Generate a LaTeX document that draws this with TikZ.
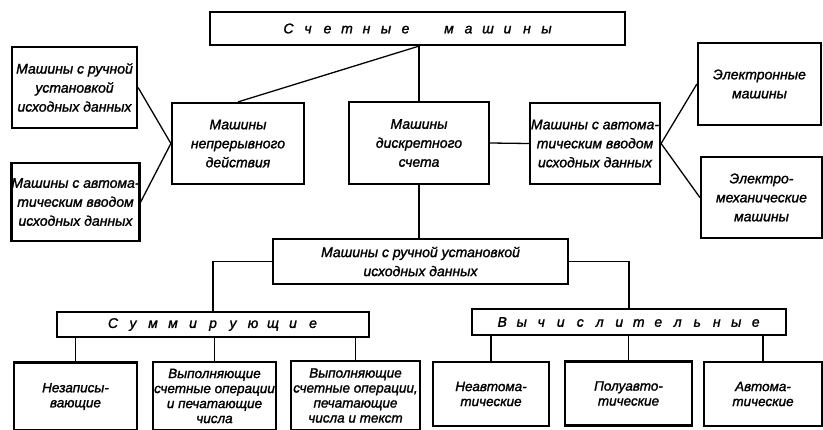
\documentclass[tikz,border=0pt]{standalone}
\usepackage{fontspec}
\setmainfont{Liberation Sans}
\makeatletter
\newcommand\spreadtxt[2]{\@tfor\ch:=#2\do{\makebox[#1]{\ch}}}
\makeatother
\tikzset{
  bx/.style={draw, line width=2.2pt, inner sep=0pt, align=center,
    font=\fontsize{14}{19}\selectfont\itshape\addfontfeature{FakeBold=1.5}},
  bxs/.style={bx, font=\fontsize{13.5}{15}\selectfont\itshape\addfontfeature{FakeBold=1.5}},
  ln/.style={line width=1.3pt},
}
\begin{document}
\begin{tikzpicture}[x=1pt,y=-1pt]
\useasboundingbox (0,0) rectangle (823,429);
\clip (0,0) rectangle (823,429);
% top
\node[bx, minimum width=415, minimum height=33] (title) at (417.5,28.5)
  {\spreadtxt{19.5pt}{Счетные}\hspace{24pt}\spreadtxt{19.5pt}{машины}};
% left
\node[bx, minimum width=125, minimum height=81] (lt) at (74.5,87.5)
  {Машины с ручной\\установкой\\исходных данных};
\node[bx, minimum width=125, minimum height=78] (lb) at (75.5,202)
  {Машины с автома-\\тическим вводом\\исходных данных};
% middle row
\node[bx, minimum width=132, minimum height=81] (cont) at (238,143.5)
  {Машины\\непрерывного\\действия};
\node[bx, minimum width=140, minimum height=82] (disc) at (419,143)
  {Машины\\дискретного\\счета};
\node[bx, minimum width=130, minimum height=81] (auto) at (595,143.5)
  {Машины с автома-\\тическим вводом\\исходных данных};
% right
\node[bx, minimum width=123, minimum height=82] (el) at (759.5,84)
  {Электронные\\машины};
\node[bx, minimum width=121, minimum height=81] (em) at (761.5,197.5)
  {Электро-\\механические\\машины};
% manual
\node[bx, minimum width=295, minimum height=45] (man) at (420.5,261.5)
  {Машины с ручной установкой\\исходных данных};
\node[bx, minimum width=312, minimum height=25] (sum) at (213,324.5)
  {\spreadtxt{20pt}{Суммирующие}};
\node[bx, minimum width=314, minimum height=26] (vych) at (629,322)
  {\spreadtxt{19.5pt}{Вычислительные}};
% bottom
\node[bxs, minimum width=123, minimum height=68] (b1) at (75.5,396.5)
  {Незаписы-\\вающие};
\node[bxs, minimum width=123, minimum height=68] (b2) at (214.5,396)
  {Выполняющие\\счетные операции\\и печатающие\\числа};
\node[bxs, minimum width=129, minimum height=69] (b3) at (355.5,395.5)
  {Выполняющие\\счетные операции,\\печатающие\\числа и текст};
\node[bxs, minimum width=116, minimum height=64] (b4) at (491,394)
  {Неавтома-\\тические};
\node[bxs, minimum width=127, minimum height=64] (b5) at (628.5,393.5)
  {Полуавто-\\тические};
\node[bxs, minimum width=118, minimum height=64] (b6) at (763,394)
  {Автома-\\тические};
% connectors
\coordinate (tj) at (disc.north |- title.south);
\draw[ln] (tj) -- (disc.north);
\draw[ln] (tj) -- (cont.north);
\draw[ln] (cont.west) -- (lt.east);
\draw[ln] (cont.west) -- (lb.east);
\draw[ln] (disc.east) -- (auto.west);
\draw[ln] (auto.east) -- (el.west);
\draw[ln] (auto.east) -- (em.west);
\draw[ln] (disc.south) -- (disc.south |- man.north);
\draw[ln] (man.west) -| (sum.north);
\draw[ln] (man.east) -| (vych.north);
\foreach \b in {b1,b2,b3}{\draw[ln] (\b.north |- sum.south) -- (\b.north);}
\foreach \b in {b4,b5,b6}{\draw[ln] (\b.north |- vych.south) -- (\b.north);}
\end{tikzpicture}
\end{document}
